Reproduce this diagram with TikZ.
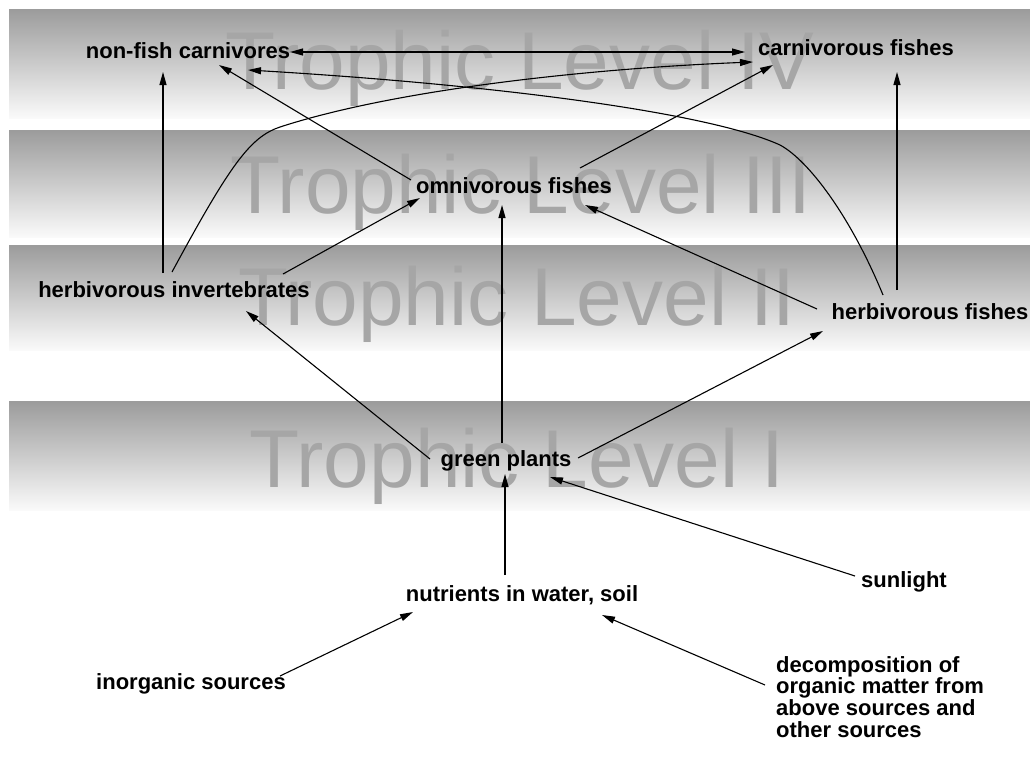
\documentclass[tikz,border=0pt]{standalone}
\usepackage{fontspec}
\setmainfont{Liberation Sans}
\usetikzlibrary{arrows.meta}
\usetikzlibrary{calc}

\begin{document}
\begin{tikzpicture}[x=1pt,y=1pt,yscale=-1,
  >={Triangle[length=13pt,width=7pt]},
  band/.style={top color=black!39,bottom color=white!98!black,draw=none},
  level/.style={anchor=base,inner sep=0pt,text=black!35,font=\fontsize{82}{82}\selectfont},
  lbl/.style={anchor=base,inner sep=2pt,text height=16pt,text depth=5pt,font=\fontsize{22}{21.7}\selectfont\bfseries},
  flow/.style={line width=1.1pt,->}]
\useasboundingbox (0,0) rectangle (1030,761);

%Shape: Bands
\shade[band] (9,9) rectangle (1030,118);
\shade[band] (9,130) rectangle (1030,237);
\shade[band] (9,245) rectangle (1030,350);
\shade[band] (9,401) rectangle (1030,510);

% Level Text
\node (lvl4) at (520,89) [level] {Trophic Level IV};
\node (lvl3) at (521,213) [level] {Trophic Level III};
\node (lvl2) at (517,325) [level] {Trophic Level II};
\node (lvl1) at (517,487) [level] {Trophic Level I};

% Text Node
\node (nfc) at (188,58) [lbl] {non-fish carnivores};
% Text Node
\node (cfish) at (856,55) [lbl] {carnivorous fishes};
% Text Node
\node (omni) at (514,193) [lbl] {omnivorous fishes};
% Text Node
\node (hinv) at (174,297) [lbl] {herbivorous invertebrates};
% Text Node
\node (hfish) at (930,319) [lbl] {herbivorous fishes};
% Text Node
\node (plants) at (506,466) [lbl] {green plants};
% Text Node
\node (nutr) at (522,601) [lbl] {nutrients in water, soil};
% Text Node
\node (sun) at (904,587) [lbl] {sunlight};
% Text Node
\node (inorg) at (191,689) [lbl] {inorganic sources};
% Text Node
\node (decomp) at (774,654) [lbl,anchor=north west,align=left,text height=,text depth=] {decomposition of\\organic matter from\\above sources and\\other sources};

%Straight Lines
\draw[flow] ($(hinv.base)+(-11,-24)$) -- ($(nfc.base)+(-25,14)$);
\draw[flow] ($(hinv.base)+(109,-23)$) -- ($(omni.base)+(-94,5)$);
\draw[flow] ($(omni.base)+(-103,-13)$) -- ($(nfc.base)+(31,7)$);
\draw[flow] ($(omni.base)+(66,-25)$) -- ($(cfish.base)+(-83,10)$);
\draw[flow,<->] ($(nfc.base)+(102,-6)$) -- ($(cfish.base)+(-111,-3)$);
\draw[flow] ($(hfish.base)+(-33,-29)$) -- ($(cfish.base)+(41,17)$);
\draw[flow] ($(hfish.base)+(-113,-10)$) -- ($(omni.base)+(71,12)$);
\draw[flow] ($(plants.base)+(-76,-7)$) -- ($(hinv.base)+(72,14)$);
\draw[flow] ($(plants.base)+(-4,-23)$) -- ($(omni.base)+(-12,12)$);
\draw[flow] ($(plants.base)+(72,-8)$) -- ($(hfish.base)+(-107,12)$);
\draw[flow] ($(nutr.base)+(-17,-26)$) -- ($(plants.base)+(-1,8)$);
\draw[flow] ($(sun.base)+(-49,-11)$) -- ($(plants.base)+(44,11)$);
\draw[flow] ($(inorg.base)+(89,-13)$) -- ($(nutr.base)+(-109,11)$);
\draw[flow] ($(decomp.north west)+(-9,31)$) -- ($(nutr.base)+(80,14)$);

%Curves
\draw[flow] ($(hinv.base)+(-2,-25)$) .. controls (230,165) and (250,137) .. (280,127)
  .. controls (400,88) and (600,68) .. ($(cfish.base)+(-103,7)$);
\draw[flow] ($(hfish.base)+(-47,-24)$) .. controls (850,215) and (808,160) .. (780,145)
  .. controls (710,113) and (500,85) .. ($(nfc.base)+(60,12)$);

\end{tikzpicture}
\end{document}
